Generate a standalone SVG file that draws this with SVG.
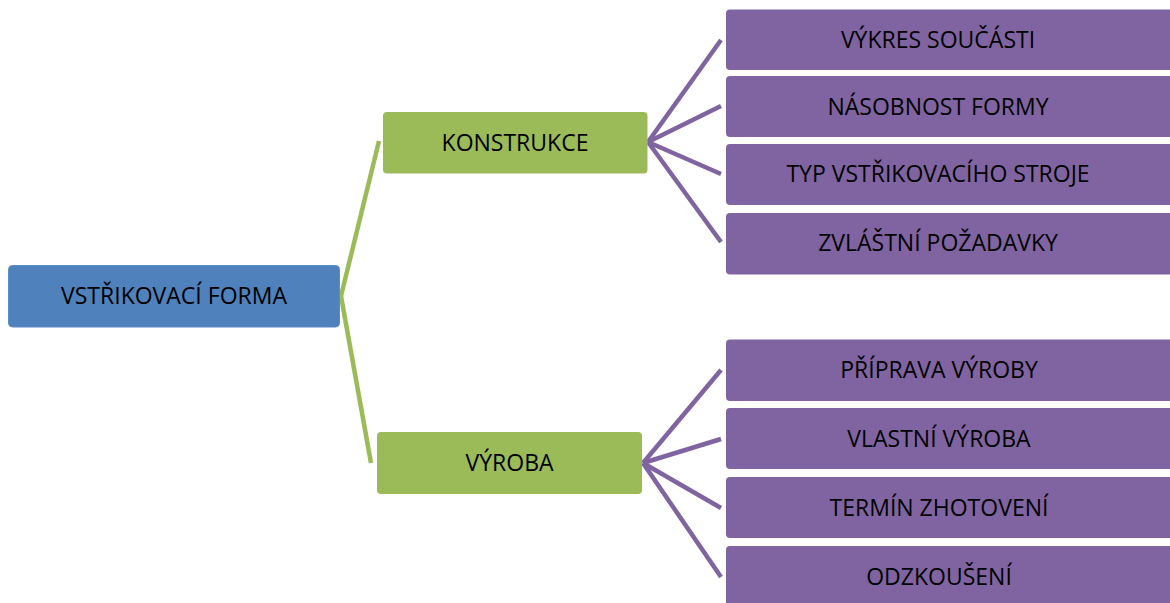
<svg xmlns="http://www.w3.org/2000/svg" width="1170" height="603" viewBox="0 0 1170 603">
<style>
  .blue { fill: #4F81BD; stroke: #5B8CC6; stroke-width: 1; }
  .green { fill: #9BBB59; }
  .purple { fill: #8064A2; }
  .lbl { font-family: "Open Sans", "Noto Sans", "DejaVu Sans", sans-serif; font-size: 23px; fill: #000; text-anchor: middle; }
  .cg { stroke: #9BBB59; stroke-width: 4.5; fill: none; }
  .cp { stroke: #8064A2; stroke-width: 4.5; fill: none; }
</style>
<rect width="1170" height="603" fill="#ffffff"/>
<g id="connectors">
  <line class="cg" x1="341" y1="296" x2="379" y2="141"/>
  <line class="cg" x1="341" y1="296" x2="371" y2="463"/>
  <line class="cp" x1="648" y1="142" x2="721" y2="40"/>
  <line class="cp" x1="648" y1="142" x2="721" y2="106"/>
  <line class="cp" x1="648" y1="142" x2="721" y2="174"/>
  <line class="cp" x1="648" y1="142" x2="721" y2="242"/>
  <line class="cp" x1="643" y1="463" x2="721" y2="370"/>
  <line class="cp" x1="643" y1="463" x2="721" y2="439"/>
  <line class="cp" x1="643" y1="463" x2="721" y2="508"/>
  <line class="cp" x1="643" y1="463" x2="721" y2="577"/>
</g>
<g id="root">
  <rect class="blue" x="8.5" y="265.5" width="331" height="61.5" rx="4"/>
  <text class="lbl" x="174" y="304">VSTŘIKOVACÍ FORMA</text>
</g>
<g id="konstrukce">
  <rect class="green" x="383" y="112" width="264.5" height="61.5" rx="4"/>
  <text class="lbl" x="515" y="150.5">KONSTRUKCE</text>
</g>
<g id="vyroba">
  <rect class="green" x="377" y="432" width="265" height="62" rx="4"/>
  <text class="lbl" x="509.5" y="471">VÝROBA</text>
</g>
<g id="k1">
  <rect class="purple" x="726" y="9.5" width="460" height="60.5" rx="4"/>
  <text class="lbl" x="938" y="48">VÝKRES SOUČÁSTI</text>
</g>
<g id="k2">
  <rect class="purple" x="726" y="76" width="460" height="61" rx="4"/>
  <text class="lbl" x="938" y="114.5">NÁSOBNOST FORMY</text>
</g>
<g id="k3">
  <rect class="purple" x="726" y="144" width="460" height="61" rx="4"/>
  <text class="lbl" x="938" y="182">TYP VSTŘIKOVACÍHO STROJE</text>
</g>
<g id="k4">
  <rect class="purple" x="726" y="213" width="460" height="61.5" rx="4"/>
  <text class="lbl" x="938" y="251">ZVLÁŠTNÍ POŽADAVKY</text>
</g>
<g id="v1">
  <rect class="purple" x="726" y="339.5" width="460" height="61.5" rx="4"/>
  <text class="lbl" x="939" y="378">PŘÍPRAVA VÝROBY</text>
</g>
<g id="v2">
  <rect class="purple" x="726" y="408" width="460" height="61" rx="4"/>
  <text class="lbl" x="939" y="446.5">VLASTNÍ VÝROBA</text>
</g>
<g id="v3">
  <rect class="purple" x="726" y="477" width="460" height="61" rx="4"/>
  <text class="lbl" x="939" y="515.5">TERMÍN ZHOTOVENÍ</text>
</g>
<g id="v4">
  <rect class="purple" x="726" y="546" width="460" height="70" rx="4"/>
  <text class="lbl" x="939" y="584.5">ODZKOUŠENÍ</text>
</g>
</svg>
